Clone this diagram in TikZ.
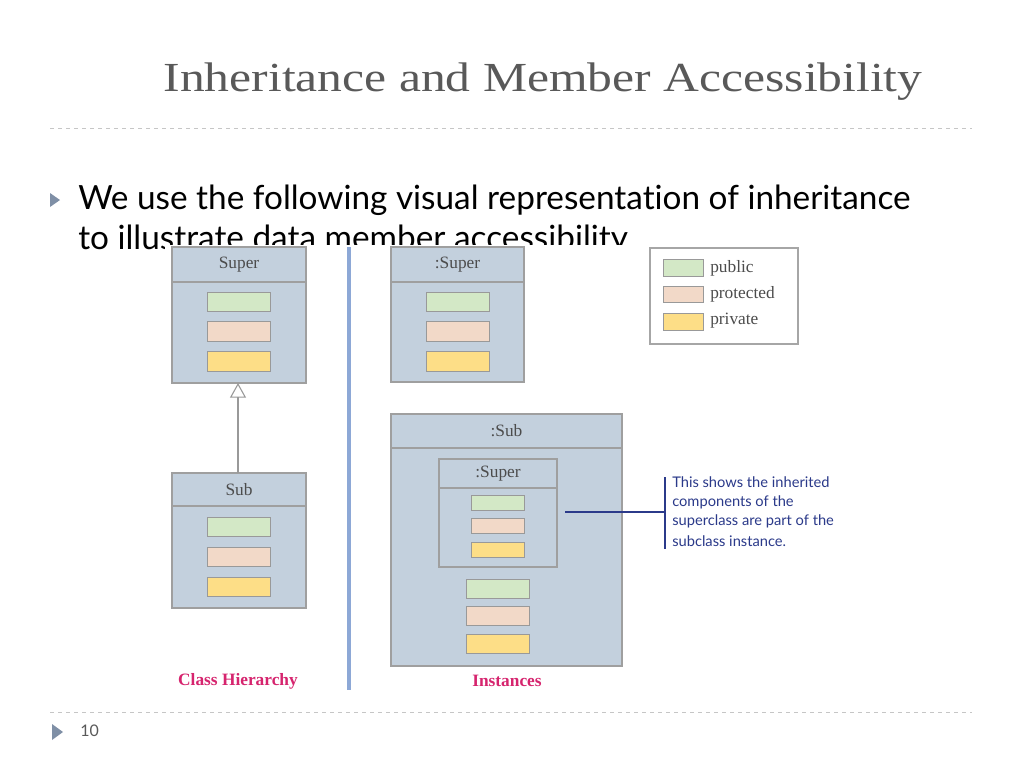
\documentclass[tikz,border=0pt]{standalone}
\usepackage{fontspec}
\setmainfont{Liberation Serif}
\newfontfamily\gill[Ligatures=NoCommon]{Lato}
\usetikzlibrary{arrows.meta}
\definecolor{titlegrey}{HTML}{595959}
\definecolor{bodyblue}{HTML}{C3D0DD}
\definecolor{headgrey}{HTML}{C9D5E1}
\definecolor{headcyan}{HTML}{CDEDF1}
\definecolor{pubgreen}{HTML}{D3E8C6}
\definecolor{protpeach}{HTML}{F2D9C8}
\definecolor{privyellow}{HTML}{FDDE87}
\definecolor{splitblue}{HTML}{8DA8D6}
\definecolor{notenavy}{HTML}{2B3A8A}
\definecolor{captionred}{HTML}{D6246E}
\definecolor{bulletblue}{HTML}{7F8FA6}
\newcommand{\classbox}[6]{% name, x1, y1, x2, y2, header bottom
  \fill[bodyblue] (#2,-#3) rectangle (#4,-#5);
  \draw[boxline] (#2,-#3) rectangle (#4,-#5);
  \draw[boxline] (#2,-#6) -- (#4,-#6);
  \coordinate (#1) at ({(#2+#4)/2},{-(#3+#6)/2});
}
\begin{document}
\begin{tikzpicture}[x=0.75pt,y=0.75pt,
    boxline/.style={draw=gray!75, line width=1.2pt},
    member/.style={draw=gray!80, line width=0.5pt},
    dashrule/.style={draw=gray!45, dashed, line width=0.6pt},
    inh/.style={-{Triangle[open, length=11pt, width=12pt]}, draw=gray!80, line width=0.8pt},
    lbl/.style={inner sep=0pt, font=\fontsize{13}{14}\selectfont, text=black!70},
    note/.style={inner sep=0pt, anchor=west, font=\gill\fontsize{11}{12}\selectfont, text=notenavy}
  ]
  \useasboundingbox (0,0) rectangle (1024,-768);
  % title and bullet
  \node[text=titlegrey, font=\fontsize{31}{34}\selectfont] (title) at (543,-82) {\scalebox{1.2}[1]{Inheritance and Member Accessibility}};
  \draw[dashrule] (50,-128) -- (972,-128);
  \fill[bulletblue] (50,-193) -- (60,-200) -- (50,-207) -- cycle;
  \node[anchor=west, inner sep=0pt, font=\gill\fontsize{25}{26}\selectfont] (line1) at (78,-200) {We use the following visual representation of inheritance};
  \node[anchor=west, inner sep=0pt, font=\gill\fontsize{25}{26}\selectfont] (line2) at (78,-240) {to illustrate data member accessibility.};
  \fill[white] (165,-245) rectangle (870,-700);
  % class hierarchy
  \fill[headgrey] (172,-247) rectangle (306,-282);
  \classbox{superhead}{172}{247}{306}{383}{282}
  \node[lbl] at (superhead) {Super};
  \fill[pubgreen] (207,-292) rectangle (270,-311); \draw[member] (207,-292) rectangle (270,-311);
  \fill[protpeach] (207,-321) rectangle (270,-341); \draw[member] (207,-321) rectangle (270,-341);
  \fill[privyellow] (207,-351) rectangle (270,-371); \draw[member] (207,-351) rectangle (270,-371);
  \coordinate (superbot) at (238,-383);
  \fill[headgrey] (172,-473) rectangle (306,-506);
  \classbox{subhead}{172}{473}{306}{608}{506}
  \node[lbl] at (subhead) {Sub};
  \fill[pubgreen] (207,-517) rectangle (270,-536); \draw[member] (207,-517) rectangle (270,-536);
  \fill[protpeach] (207,-547) rectangle (270,-566); \draw[member] (207,-547) rectangle (270,-566);
  \fill[privyellow] (207,-577) rectangle (270,-596); \draw[member] (207,-577) rectangle (270,-596);
  \coordinate (subtop) at (238,-473);
  \draw[inh] (subtop) -- (superbot);
  % divider
  \draw[splitblue, line width=3pt] (349,-247) -- (349,-690);
  % instances
  \fill[headcyan] (391,-247) rectangle (524,-282);
  \classbox{isuperhead}{391}{247}{524}{382}{282}
  \node[lbl] at (isuperhead) {:Super};
  \fill[pubgreen] (426,-292) rectangle (489,-311); \draw[member] (426,-292) rectangle (489,-311);
  \fill[protpeach] (426,-321) rectangle (489,-341); \draw[member] (426,-321) rectangle (489,-341);
  \fill[privyellow] (426,-351) rectangle (489,-371); \draw[member] (426,-351) rectangle (489,-371);
  \fill[headcyan] (391,-414) rectangle (622,-448);
  \classbox{isubhead}{391}{414}{622}{666}{448}
  \node[lbl] at (isubhead) {:Sub};
  \fill[headcyan] (439,-459) rectangle (557,-488);
  \classbox{innerhead}{439}{459}{557}{567}{488}
  \node[lbl] at (innerhead) {:Super};
  \fill[pubgreen] (471,-495) rectangle (524,-510); \draw[member] (471,-495) rectangle (524,-510);
  \fill[protpeach] (471,-518) rectangle (524,-533); \draw[member] (471,-518) rectangle (524,-533);
  \fill[privyellow] (471,-542) rectangle (524,-557); \draw[member] (471,-542) rectangle (524,-557);
  \fill[pubgreen] (466,-579) rectangle (529,-598); \draw[member] (466,-579) rectangle (529,-598);
  \fill[protpeach] (466,-606) rectangle (529,-625); \draw[member] (466,-606) rectangle (529,-625);
  \fill[privyellow] (466,-634) rectangle (529,-653); \draw[member] (466,-634) rectangle (529,-653);
  % legend
  \draw[gray!70, line width=0.8pt] (650,-248) rectangle (798,-344);
  \fill[pubgreen] (663,-259) rectangle (703,-276); \draw[member] (663,-259) rectangle (703,-276);
  \fill[protpeach] (663,-286) rectangle (703,-302); \draw[member] (663,-286) rectangle (703,-302);
  \fill[privyellow] (663,-313) rectangle (703,-330); \draw[member] (663,-313) rectangle (703,-330);
  \node[lbl, anchor=west] (pub) at (710,-268) {public};
  \node[lbl, anchor=west] (prot) at (710,-294) {protected};
  \node[lbl, anchor=west] (priv) at (710,-321) {private};
  % callout
  \coordinate (calloutstart) at (565,-512);
  \coordinate (calloutend) at (665,-512);
  \draw[notenavy, line width=0.8pt] (calloutstart) -- (calloutend);
  \draw[notenavy, line width=1.2pt] (665,-477) -- (665,-549);
  \node[note] (n1) at (672,-482) {This shows the inherited};
  \node[note] (n2) at (672,-502) {components of the};
  \node[note] (n3) at (672,-521) {superclass are part of the};
  \node[note] (n4) at (672,-541) {subclass instance.};
  % captions
  \node[text=captionred, font=\bfseries\fontsize{13}{14}\selectfont] (caphier) at (238,-681) {Class Hierarchy};
  \node[text=captionred, font=\bfseries\fontsize{13}{14}\selectfont] (capinst) at (507,-681) {Instances};
  % footer
  \draw[dashrule] (50,-712) -- (972,-712);
  \fill[bulletblue] (52,-724) -- (63,-732) -- (52,-740) -- cycle;
  \node[anchor=west, inner sep=0pt, font=\gill\fontsize{12}{13}\selectfont, text=titlegrey] (pagenum) at (80,-731) {10};
\end{tikzpicture}
\end{document}
